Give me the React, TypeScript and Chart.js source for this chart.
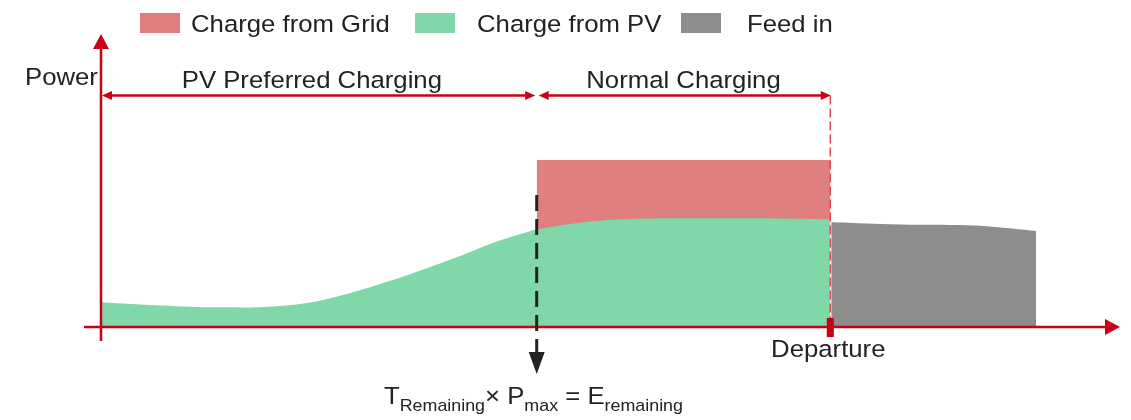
import React, { useEffect, useRef } from 'react';
import { Chart, registerables } from 'chart.js';

Chart.register(...registerables);

// ---- data (x: time in % of the horizon, y: power in arbitrary units) ----
const pvTime = [0, 6.3, 12.7, 19.1, 24.2, 31.2, 34.9, 38.4, 41.9, 45.6, 46.6, 51.2, 56.6, 65.5, 72.6, 78.0];
const pvPower = [1.48, 1.29, 1.18, 1.26, 1.68, 2.81, 3.53, 4.25, 5.03, 5.69, 5.84, 6.25, 6.47, 6.51, 6.5, 6.45];
const gridTime = [46.6, 78.0];
const gridPower = [10, 10];
const feedTime = [78.1, 85.5, 92.6, 96.2, 100];
const feedPower = [6.27, 6.14, 6.09, 5.96, 5.75];

const seriesLabels = ['Charge from Grid', 'Charge from PV', 'Feed in'];
const seriesColors = ['#DF7F7F', '#80D8A8', '#8D8D8B'];
const phaseLabels = ['PV Preferred Charging', 'Normal Charging'];
const axisLabels = ['Power', 'Departure'];
const formulaParts = [
  { text: 'T', sub: false },
  { text: 'Remaining', sub: true },
  { text: '× P', sub: false },
  { text: 'max', sub: true },
  { text: ' = E', sub: false },
  { text: 'remaining', sub: true },
];

const RED = 'rgb(204,0,20)';
const DARK = '#222222';
const SX = 1.05;
const FONT = '"Liberation Sans", Arial, sans-serif';
const MAIN = 24.5;
const SUB = 17;

function drawText(ctx: CanvasRenderingContext2D, s: string, x: number, y: number, size: number, align: CanvasTextAlign = 'left') {
  ctx.save();
  ctx.translate(x, y);
  ctx.scale(SX, 1);
  ctx.font = `${size}px ${FONT}`;
  ctx.fillStyle = DARK;
  ctx.textAlign = align;
  ctx.textBaseline = 'alphabetic';
  ctx.fillText(s, 0, 0);
  ctx.restore();
  ctx.save();
  ctx.font = `${size}px ${FONT}`;
  const w = ctx.measureText(s).width * SX;
  ctx.restore();
  return w;
}

function arrowHead(ctx: CanvasRenderingContext2D, tx: number, ty: number, dir: 'up' | 'down' | 'left' | 'right', len: number, half: number, color: string) {
  ctx.save();
  ctx.fillStyle = color;
  ctx.beginPath();
  ctx.moveTo(tx, ty);
  if (dir === 'up') { ctx.lineTo(tx - half, ty + len); ctx.lineTo(tx + half, ty + len); }
  if (dir === 'down') { ctx.lineTo(tx - half, ty - len); ctx.lineTo(tx + half, ty - len); }
  if (dir === 'left') { ctx.lineTo(tx + len, ty - half); ctx.lineTo(tx + len, ty + half); }
  if (dir === 'right') { ctx.lineTo(tx - len, ty - half); ctx.lineTo(tx - len, ty + half); }
  ctx.closePath();
  ctx.fill();
  ctx.restore();
}

function line(ctx: CanvasRenderingContext2D, x1: number, y1: number, x2: number, y2: number, color: string, width: number, dash: number[] = []) {
  ctx.save();
  ctx.strokeStyle = color;
  ctx.lineWidth = width;
  ctx.setLineDash(dash);
  ctx.beginPath();
  ctx.moveTo(x1, y1);
  ctx.lineTo(x2, y2);
  ctx.stroke();
  ctx.restore();
}

const diagramPlugin = {
  id: 'diagram',
  afterDraw(chart: any) {
    const ctx: CanvasRenderingContext2D = chart.ctx;
    const xs = chart.scales.x;
    const ys = chart.scales.y;
    const x0 = xs.getPixelForValue(0);
    const yB = ys.getPixelForValue(0);
    const xT = xs.getPixelForValue(gridTime[0]);
    const xD = xs.getPixelForValue(gridTime[1]);
    const dimY = 95.5;

    // departure dashed guide
    line(ctx, xD, dimY, xD, yB, 'rgb(228,70,85)', 1.5, [9, 4]);

    // axes
    line(ctx, x0, yB + 14, x0, 48, RED, 2.5);
    arrowHead(ctx, x0, 34, 'up', 15, 8, RED);
    line(ctx, 84, yB, 1106, yB, RED, 2.5);
    arrowHead(ctx, 1120, yB, 'right', 15, 8, RED);

    // dimension arrows
    line(ctx, x0 + 8, dimY, xT - 10, dimY, RED, 2.5);
    arrowHead(ctx, x0 + 1, dimY, 'left', 10, 4.5, RED);
    arrowHead(ctx, xT - 1.5, dimY, 'right', 10, 4.5, RED);
    line(ctx, xT + 8, dimY, xD - 8, dimY, RED, 2.5);
    arrowHead(ctx, xT + 2, dimY, 'left', 10, 4.5, RED);
    arrowHead(ctx, xD + 0.5, dimY, 'right', 10, 4.5, RED);

    // departure marker
    ctx.save();
    ctx.fillStyle = 'rgb(200,0,15)';
    ctx.fillRect(xD - 3.5, yB - 9, 7, 19);
    ctx.restore();

    // T remaining dashed marker
    line(ctx, xT, 195, xT, 356, DARK, 3, [16, 8]);
    arrowHead(ctx, xT, 374, 'down', 22, 8, DARK);

    // labels
    drawText(ctx, axisLabels[0], 25, 85, MAIN, 'left');
    drawText(ctx, axisLabels[1], xD - 2, 357, MAIN, 'center');
    drawText(ctx, phaseLabels[0], (x0 + xT) / 2 - 7, 87.5, MAIN, 'center');
    drawText(ctx, phaseLabels[1], (xT + xD) / 2, 87.5, MAIN, 'center');

    // formula
    let fx = 384;
    for (const p of formulaParts) {
      fx += drawText(ctx, p.text, fx, p.sub ? 411 : 404, p.sub ? SUB : MAIN, 'left');
    }

    // legend
    const boxX = [140, 415, 681];
    const textX = [191, 477, 747];
    for (let i = 0; i < seriesLabels.length; i++) {
      ctx.save();
      ctx.fillStyle = seriesColors[i];
      ctx.fillRect(boxX[i], 13, 40, 20);
      ctx.restore();
      drawText(ctx, seriesLabels[i], textX[i], 31.5, MAIN, 'left');
    }
  },
};

export default function App() {
  const ref = useRef<HTMLCanvasElement>(null);
  useEffect(() => {
    if (!ref.current) return;
    const pts = (xsArr: number[], ysArr: number[]) => xsArr.map((x, i) => ({ x, y: ysArr[i] }));
    const chart = new Chart(ref.current, {
      type: 'line',
      data: {
        datasets: [
          {
            label: seriesLabels[0],
            data: pts(gridTime, gridPower),
            backgroundColor: seriesColors[0],
            borderWidth: 0,
            pointRadius: 0,
            fill: 'origin',
            order: 2,
            tension: 0,
          },
          {
            label: seriesLabels[1],
            data: pts(pvTime, pvPower),
            backgroundColor: seriesColors[1],
            borderWidth: 0,
            pointRadius: 0,
            fill: 'origin',
            order: 1,
            tension: 0.4,
          },
          {
            label: seriesLabels[2],
            data: pts(feedTime, feedPower),
            backgroundColor: seriesColors[2],
            borderWidth: 0,
            pointRadius: 0,
            fill: 'origin',
            order: 0,
            tension: 0.4,
          },
        ],
      },
      options: {
        animation: false,
        responsive: false,
        layout: { padding: { left: 101, right: 95, top: 160, bottom: 93 } },
        plugins: { legend: { display: false }, tooltip: { enabled: false } },
        scales: {
          x: { type: 'linear', min: 0, max: 100, display: false },
          y: { type: 'linear', min: 0, max: 10, display: false },
        },
      },
      plugins: [diagramPlugin],
    } as any);
    return () => chart.destroy();
  }, []);
  return (
    <div style={{ position: 'fixed', left: 0, top: 0, width: 1131, height: 420, background: '#fff' }}>
      <canvas ref={ref} width={1131} height={420} style={{ display: 'block' }} />
    </div>
  );
}
